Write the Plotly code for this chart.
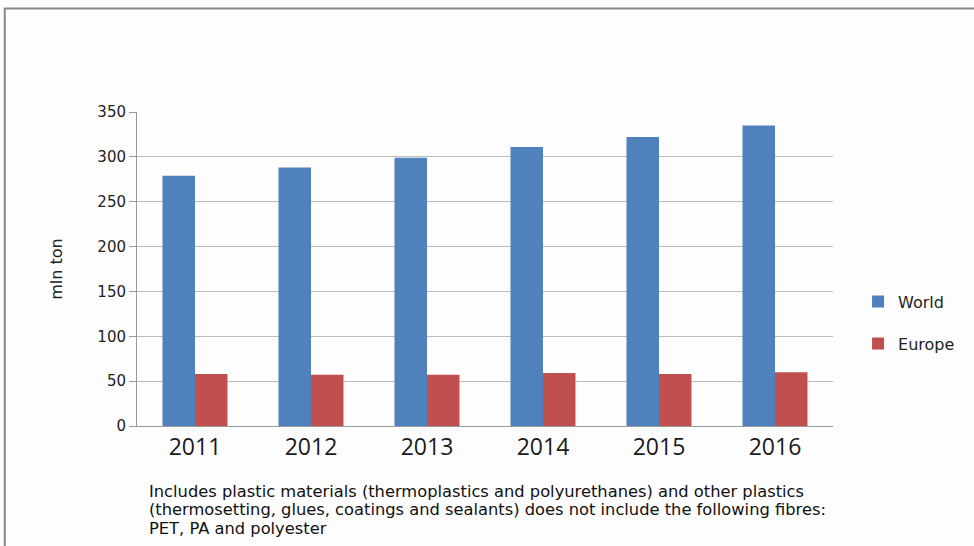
import plotly.graph_objects as go

years = ["2011", "2012", "2013", "2014", "2015", "2016"]
world = [279, 288, 299, 311, 322, 335]
europe = [58, 57, 57, 59, 58, 60]
y_ticks = [0, 50, 100, 150, 200, 250, 300, 350]

footnote_lines = [
    "Includes plastic materials (thermoplastics and polyurethanes) and other plastics",
    "(thermosetting, glues, coatings and sealants) does not include the following fibres:",
    "PET, PA and polyester",
]
footnote_y = [-0.210, -0.2675, -0.325]

fig = go.Figure()
fig.add_trace(go.Bar(x=years, y=world, name="World", legendgroup="w",
                     marker=dict(color="#4F81BD", line=dict(width=0))))
fig.add_trace(go.Bar(x=years, y=europe, name="Europe", legendgroup="e",
                     marker=dict(color="#C0504D", line=dict(width=0))))

annotations = [dict(text=t, xref="paper", yref="paper", x=0.0145, y=yy,
                    xanchor="left", yanchor="middle", align="left", showarrow=False,
                    font=dict(family="DejaVu Sans", size=16.3, color="#111"))
               for t, yy in zip(footnote_lines, footnote_y)]

fig.update_layout(
    width=974, height=546,
    margin=dict(l=137, r=141, t=112, b=120),
    paper_bgcolor="#FDFDFD", plot_bgcolor="#FDFDFD",
    barmode="group", bargap=0.44, bargroupgap=0,
    font=dict(family="DejaVu Sans, sans-serif", color="#222"),
    legend=dict(x=1.036, y=0.45, xanchor="left", yanchor="top",
                font=dict(size=16), tracegroupgap=18,
                bgcolor="rgba(0,0,0,0)", traceorder="grouped"),
    xaxis=dict(showline=True, linecolor="#999", linewidth=1, ticks="",
               tickfont=dict(family="Open Sans", size=23, color="#1a1a1a"), showgrid=False),
    yaxis=dict(range=[0, 350], tickvals=y_ticks, showgrid=True, gridcolor="#BBBBBB",
               gridwidth=1, showline=True, linecolor="#999", linewidth=1,
               ticks="outside", ticklen=7, tickcolor="#999",
               tickfont=dict(size=15, color="#222"),
               zeroline=False,
               title=dict(text="mln ton", font=dict(size=16, color="#222"), standoff=30)),
    shapes=[dict(type="rect", xref="paper", yref="paper", x0=-0.19, y0=1.33, x1=1.3, y1=-0.6,
                 line=dict(color="#888", width=2), fillcolor="rgba(0,0,0,0)", layer="below")],
    annotations=annotations,
)

fig.write_html("out.html")
